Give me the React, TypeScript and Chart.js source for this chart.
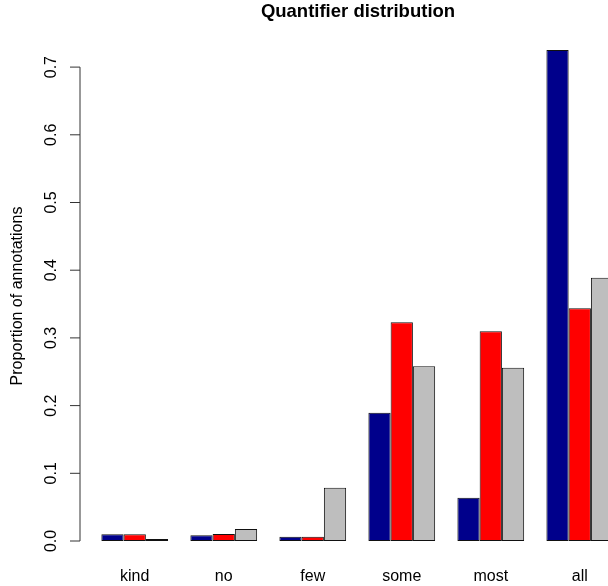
import React, { useEffect, useRef } from "react";
import { Chart, registerables } from "chart.js";

Chart.register(...registerables);

const categories = ["kind", "no", "few", "some", "most", "all"];
const seriesNames = ["Series 1", "Series 2", "Series 3"];
const seriesA = [0.01, 0.0085, 0.0064, 0.1895, 0.064, 0.7253];
const seriesB = [0.01, 0.0103, 0.0062, 0.323, 0.3097, 0.3437];
const seriesC = [0.003, 0.0177, 0.0787, 0.258, 0.256, 0.389];
const seriesColors = ["#00008B", "#FF0000", "#BEBEBE"];
const yTicks = [0, 0.1, 0.2, 0.3, 0.4, 0.5, 0.6, 0.7];
const titleText = "Quantifier distribution";
const yTitle = "Proportion of annotations";

const FONT = "'Liberation Sans', Arial, Helvetica, sans-serif";

export default function App() {
  const ref = useRef<HTMLCanvasElement | null>(null);

  useEffect(() => {
    if (!ref.current) return;
    const series = [seriesA, seriesB, seriesC];

    const customText = {
      id: "customText",
      afterDraw(chart: any) {
        const ctx = chart.ctx;
        const y = chart.scales.y;
        const area = chart.chartArea;
        ctx.save();
        ctx.strokeStyle = "#333";
        ctx.lineWidth = 1;
        const x0 = area.left;
        const yTop = y.getPixelForValue(yTicks[yTicks.length - 1]);
        const yBot = y.getPixelForValue(yTicks[0]);
        ctx.beginPath();
        ctx.moveTo(x0, yTop);
        ctx.lineTo(x0, yBot);
        for (const t of yTicks) {
          const py = y.getPixelForValue(t);
          ctx.moveTo(x0, py);
          ctx.lineTo(x0 - 10, py);
        }
        ctx.stroke();
        ctx.fillStyle = "#000";
        ctx.font = `16px ${FONT}`;
        ctx.textAlign = "center";
        ctx.textBaseline = "alphabetic";
        for (const t of yTicks) {
          const py = y.getPixelForValue(t);
          ctx.save();
          ctx.translate(56, py);
          ctx.rotate(-Math.PI / 2);
          ctx.fillText(t.toFixed(1), 0, 0);
          ctx.restore();
        }
        ctx.save();
        ctx.translate(22, 296);
        ctx.rotate(-Math.PI / 2);
        ctx.fillText(yTitle, 0, 0);
        ctx.restore();
        ctx.font = `bold 18.5px ${FONT}`;
        ctx.fillText(titleText, 358, 17);
        ctx.restore();
      },
    };

    const chart = new Chart(ref.current, {
      type: "bar",
      data: {
        datasets: series.map((vals, k) => ({
          label: seriesNames[k],
          data: categories.map((_, i) => ({ x: i, y: vals[i] })),
          backgroundColor: seriesColors[k],
          borderColor: "#111",
          borderWidth: 1,
          borderSkipped: false,
          categoryPercentage: 0.75,
          barPercentage: 1,
        })),
      },
      options: {
        responsive: false,
        animation: false,
        devicePixelRatio: 1,
        layout: { padding: { top: 33.25, left: 0, right: 0, bottom: 0 } },
        plugins: {
          legend: { display: false },
          title: { display: false },
          tooltip: { enabled: false },
        },
        scales: {
          x: {
            type: "linear",
            offset: false,
            min: -0.615,
            max: 5.317,
            grid: { display: false, drawTicks: false, offset: false },
            border: { display: false },
            afterBuildTicks: (scale: any) => {
              scale.ticks = categories.map((_, i) => ({ value: i }));
            },
            afterFit: (scale: any) => {
              scale.height = 45;
              scale.paddingLeft = 0;
              scale.paddingRight = 0;
            },
            ticks: {
              autoSkip: false,
              maxRotation: 0,
              minRotation: 0,
              padding: 26,
              color: "#000",
              font: { family: FONT, size: 16 },
              callback: (v: any) => categories[Math.round(Number(v))] ?? "",
            },
          },
          y: {
            type: "linear",
            min: 0,
            max: 0.75,
            grid: { display: false },
            border: { display: false },
            afterFit: (scale: any) => {
              scale.width = 80;
              scale.paddingTop = 0;
              scale.paddingBottom = 0;
            },
            ticks: { display: false, stepSize: 0.1, includeBounds: false },
          },
        },
      },
      plugins: [customText],
    });
    return () => chart.destroy();
  }, []);

  return (
    <div style={{ position: "fixed", left: 0, top: 0, width: 608, height: 586, background: "#fff" }}>
      <canvas ref={ref} width={608} height={586} />
    </div>
  );
}
